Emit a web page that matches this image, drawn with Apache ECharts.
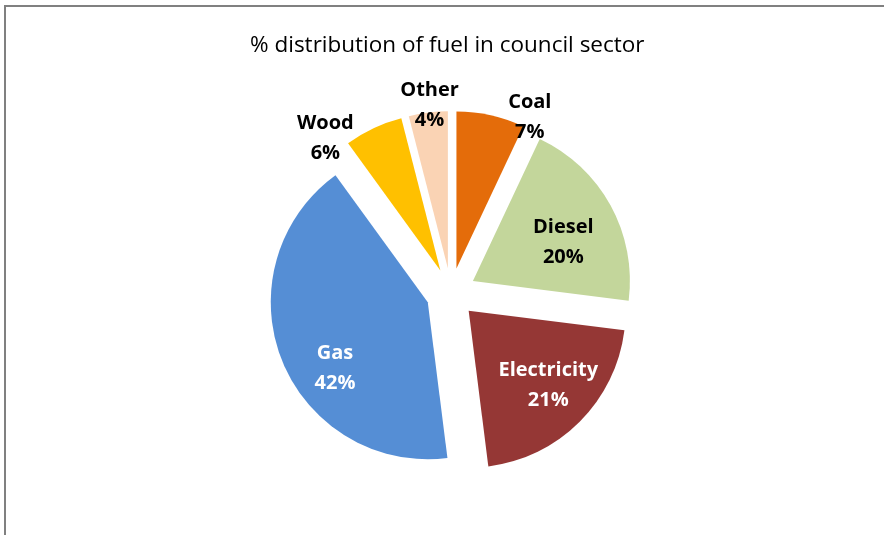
<!DOCTYPE html>
<html>
<head>
<meta charset="utf-8">
<script src="https://cdn.jsdelivr.net/npm/echarts@6/dist/echarts.min.js"></script>
<style>
html,body{margin:0;padding:0;background:#fff;}
#chart{width:884px;height:535px;}
</style>
</head>
<body>
<div id="chart"></div>
<script>
const categories = ['Coal', 'Diesel', 'Electricity', 'Gas', 'Wood', 'Other'];
const values = [7, 20, 21, 42, 6, 4];
const colors = ['#E46C0A', '#C3D69B', '#953735', '#558ED5', '#FFC000', '#FAD3B4'];
const labelColors = ['#000', '#000', '#fff', '#fff', '#000', '#000'];
const labelPos = ['outside', 'inside', 'inside', 'inside', 'outside', 'outside'];
const labelShift = [[-37, 7], [19, 1], [22, 17], [-17, 36], [29, 14], [77, -2]];

const chart = echarts.init(document.getElementById('chart'), null, {renderer: 'canvas'});
const FONT = '"Open Sans", Lato, sans-serif';

const data = categories.map((c, i) => ({
  name: c,
  value: values[i],
  selected: true,
  itemStyle: {color: colors[i]},
  select: {itemStyle: {color: colors[i]}},
  label: {position: labelPos[i], color: labelColors[i]}
}));

chart.setOption({
  animation: false,
  title: {
    text: '% distribution of fuel in council sector',
    left: 245,
    top: 29,
    textStyle: {fontFamily: FONT, fontWeight: 'normal', fontSize: 22.5, color: '#000'}
  },
  graphic: [{
    type: 'rect',
    shape: {x: 5, y: 6, width: 2000, height: 2000},
    style: {fill: 'none', stroke: '#808080', lineWidth: 2},
    silent: true
  }],
  series: [{
    type: 'pie',
    center: [451, 293],
    radius: 157,
    startAngle: 90,
    clockwise: true,
    selectedMode: 'multiple',
    selectedOffset: 25,
    avoidLabelOverlap: false,
    data: data,
    label: {
      show: true,
      formatter: '{b|{b}}\n{b|{d}%}',
      rich: {
        b: {fontFamily: FONT, fontWeight: 'bold', fontSize: 20, lineHeight: 30, width: 120, align: 'center'}
      }
    },
    labelLine: {show: false, length: 5, length2: 10},
    labelLayout: function (p) {
      const s = labelShift[p.dataIndex];
      return {dx: s[0], dy: s[1]};
    },
    emphasis: {disabled: true}
  }]
});
</script>
</body>
</html>
